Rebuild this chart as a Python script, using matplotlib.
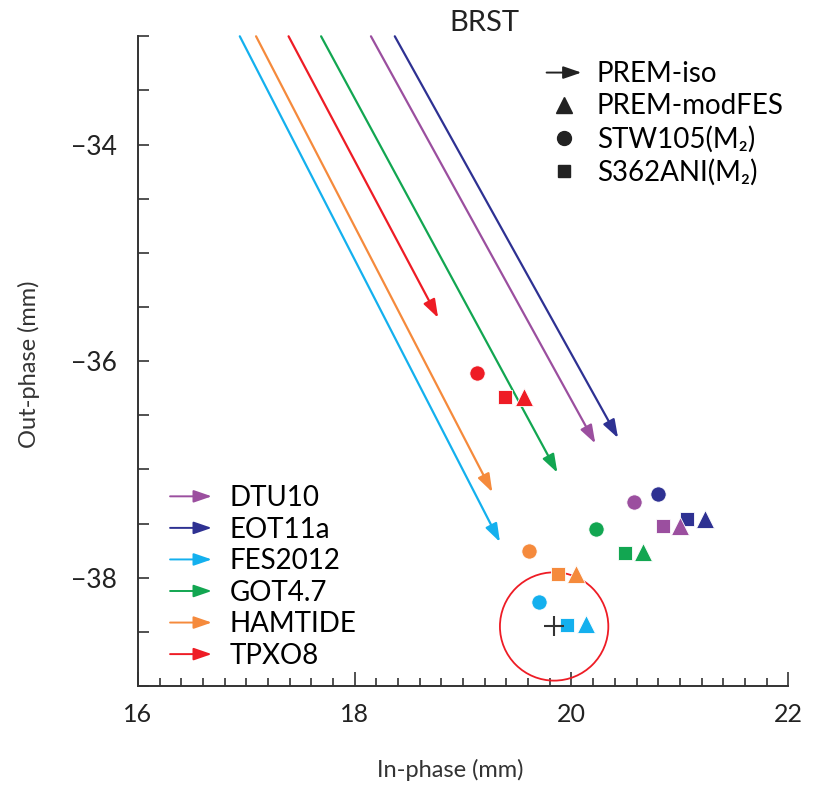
import matplotlib
matplotlib.use("Agg")
import matplotlib.pyplot as plt
from matplotlib.lines import Line2D
from matplotlib.patches import FancyArrowPatch, Circle
from matplotlib.legend_handler import HandlerBase

plt.rcParams['font.family'] = ['Lato', 'DejaVu Sans']
plt.rcParams['mathtext.default'] = 'regular'

# ---- data ----
models = ["DTU10", "EOT11a", "FES2012", "GOT4.7", "HAMTIDE", "TPXO8"]
colors = ["#9B4F9F", "#2E3192", "#14B0EE", "#12A651", "#F58A3C", "#EE1C25"]

# PREM-iso arrows (start at top edge, tip)
arrow_x0 = [18.15, 18.37, 16.94, 17.69, 17.09, 17.39]
arrow_y0 = [-33.0, -33.0, -33.0, -33.0, -33.0, -33.0]
arrow_x1 = [20.22, 20.43, 19.34, 19.87, 19.27, 18.77]
arrow_y1 = [-36.76, -36.71, -37.67, -37.03, -37.21, -35.60]

# PREM-modFES (triangles)
tri_x = [21.00, 21.23, 20.13, 20.66, 20.04, 19.56]
tri_y = [-37.52, -37.46, -38.43, -37.76, -37.97, -36.33]
# STW105 (circles)
circ_x = [20.58, 20.80, 19.70, 20.23, 19.61, 19.13]
circ_y = [-37.30, -37.23, -38.22, -37.55, -37.75, -36.11]
# S362ANI (squares)
sq_x = [20.84, 21.07, 19.96, 20.49, 19.88, 19.39]
sq_y = [-37.52, -37.46, -38.44, -37.77, -37.97, -36.33]

obs_x, obs_y = 19.84, -38.45
obs_radius = 0.5

xlim = (16, 22)
ylim = (-39, -33)
xticks = [16, 18, 20, 22]
yticks = [-38, -36, -34]

ARROW = '-|>,head_length=1.1,head_width=0.38'


class ArrowHandler(HandlerBase):
    def create_artists(self, legend, orig_handle, xdescent, ydescent,
                       width, height, fontsize, trans):
        y = height / 2 - ydescent
        a = FancyArrowPatch((-xdescent, y), (width - xdescent, y),
                            arrowstyle=ARROW,
                            mutation_scale=10, color=orig_handle.get_color(),
                            lw=1.4, shrinkA=0, shrinkB=0)
        a.set_transform(trans)
        return [a]


fig = plt.figure(figsize=(8.16, 7.89), dpi=100)
ax = fig.add_axes([0.169, 0.1305, 0.797, 0.8235])

for i, c in enumerate(colors):
    ax.annotate("", xy=(arrow_x1[i], arrow_y1[i]), xytext=(arrow_x0[i], arrow_y0[i]),
                arrowprops=dict(arrowstyle=ARROW,
                                color=c, lw=1.6, shrinkA=0, shrinkB=0,
                                mutation_scale=10),
                annotation_clip=False)

for i, c in enumerate(colors):
    ax.plot(circ_x[i], circ_y[i], 'o', ms=11, color=c, mec='white', mew=0.6, zorder=3)
    ax.plot(sq_x[i], sq_y[i], 's', ms=9.5, color=c, mec='white', mew=0.6, zorder=3)
    ax.plot(tri_x[i], tri_y[i], '^', ms=12.5, color=c, mec='white', mew=0.6, zorder=4)

ax.plot(obs_x, obs_y, '+', ms=14, mew=1.5, color='#333333', zorder=5)
ax.add_patch(Circle((obs_x, obs_y), obs_radius, fill=False, ec='#EE1C25', lw=1.3, zorder=2))

ax.set_xlim(*xlim)
ax.set_ylim(*ylim)
ax.set_xticks(xticks)
ax.set_yticks(yticks)
ax.set_yticklabels(["\u2212" + str(-t) for t in yticks])
ax.set_xticks([16 + 0.2 * k for k in range(31)], minor=True)
ax.set_yticks([-39 + 0.5 * k for k in range(13)], minor=True)
ax.tick_params(which='both', direction='in', labelsize=18, color='#333333', width=1.2,
               labelcolor='#222222')
ax.tick_params(axis='y', which='major', labelsize=19)
ax.tick_params(axis='x', which='major', length=10, pad=12)
ax.tick_params(axis='x', which='minor', length=6)
ax.tick_params(axis='y', which='both', length=8, pad=15)
for s in ['top', 'right']:
    ax.spines[s].set_visible(False)
for s in ['left', 'bottom']:
    ax.spines[s].set_linewidth(1.4)
    ax.spines[s].set_color('#333333')

ax.set_xlabel("In-phase (mm)", fontsize=17, color='#333333')
ax.xaxis.set_label_coords(0.48, -0.112)
ax.set_ylabel("Out-phase (mm)", fontsize=17, color='#333333')
ax.yaxis.set_label_coords(-0.15, 0.495)
ax.set_title("BRST", fontsize=21, pad=2, color='#222222', x=0.533)

# legend: model colors
h_models = [Line2D([], [], color=c) for c in colors]
leg1 = ax.legend(h_models, models, handler_map={Line2D: ArrowHandler()},
                 loc='lower left', bbox_to_anchor=(0.011, -0.012), frameon=False,
                 fontsize=20, handlelength=1.5, handletextpad=0.65, labelspacing=0.2)
ax.add_artist(leg1)

# legend: model types
h_types = [Line2D([], [], color='#222222'),
           Line2D([], [], marker='^', ls='none', color='#222222', ms=12),
           Line2D([], [], marker='o', ls='none', color='#222222', ms=10),
           Line2D([], [], marker='s', ls='none', color='#222222', ms=9)]
lab_types = ["PREM-iso", "PREM-modFES", "STW105(M\u2082)", "S362ANI(M\u2082)"]
leg2 = ax.legend(h_types, lab_types, handler_map={h_types[0]: ArrowHandler()},
                 loc='upper left', bbox_to_anchor=(0.59, 1.0), frameon=False,
                 fontsize=20, handlelength=1.25, handletextpad=0.55, labelspacing=0.22)

fig.savefig("out.png", dpi=100)
